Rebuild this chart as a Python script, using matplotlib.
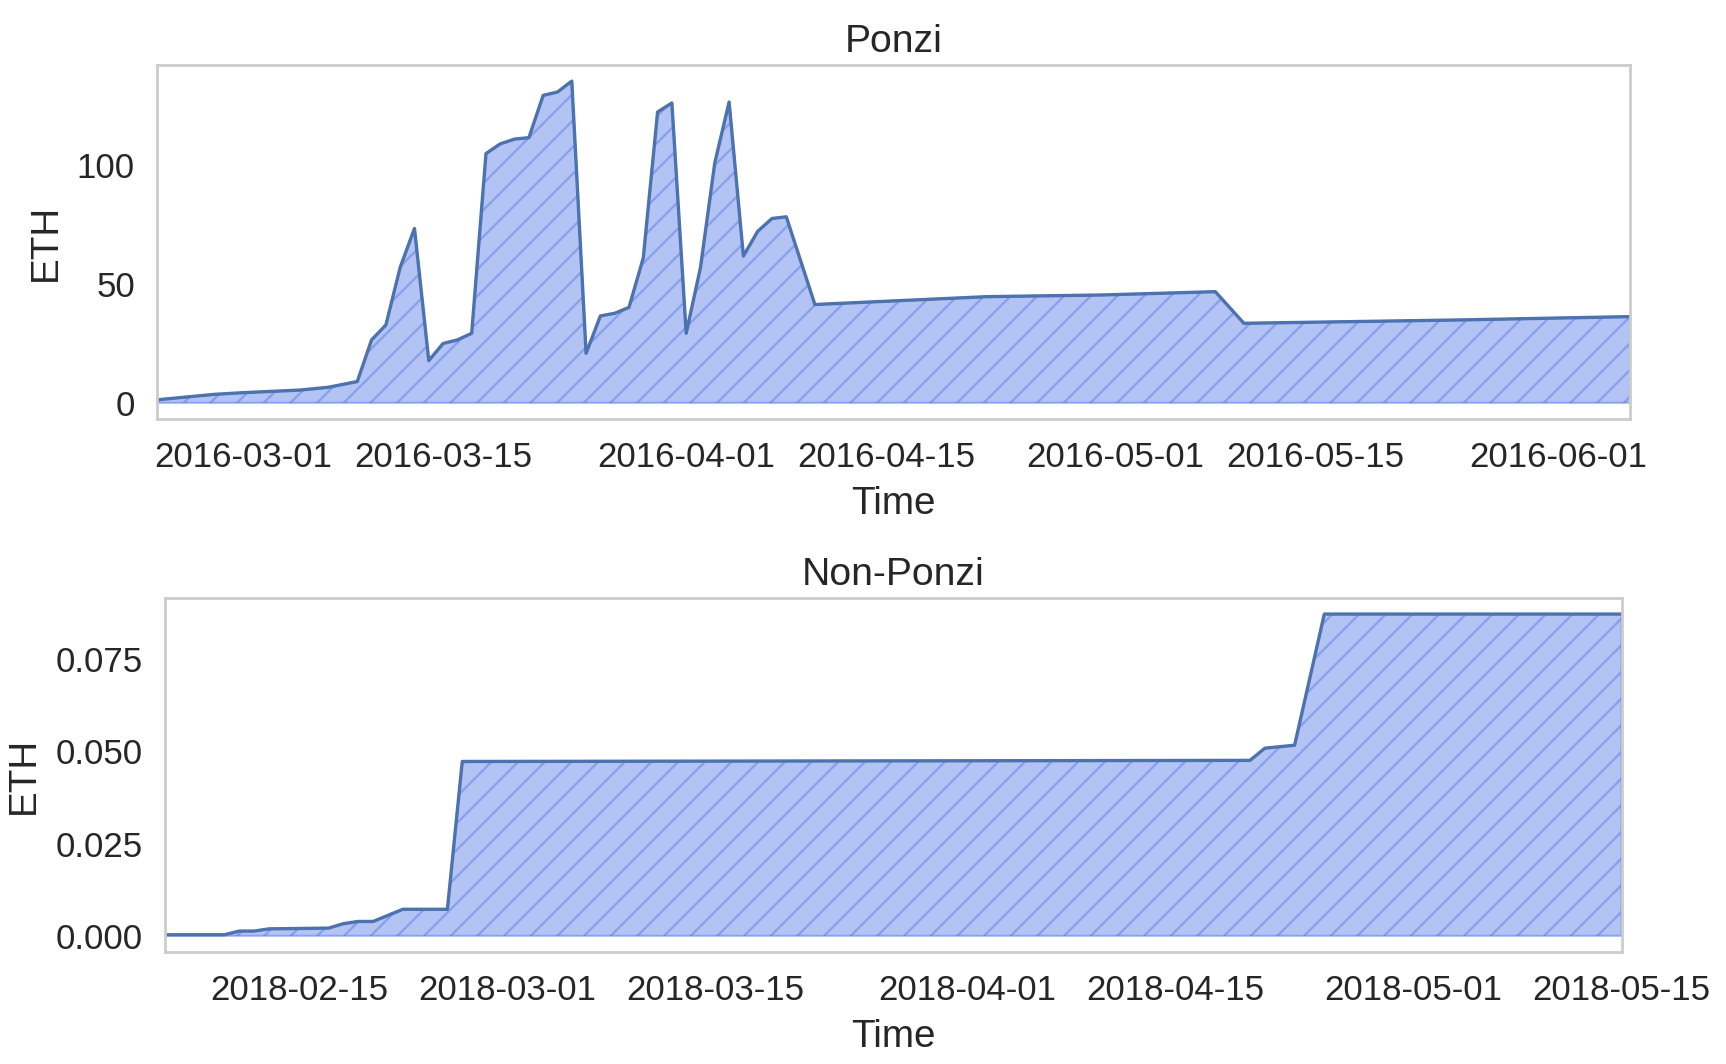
import matplotlib
matplotlib.use("Agg")
import matplotlib.pyplot as plt
import matplotlib.dates as mdates
from matplotlib.ticker import FormatStrFormatter
import pandas as pd


# Ponzi 合约余额（ETH），按日期
ponzi_dates = [
    "2016-02-24", "2016-02-28", "2016-03-01", "2016-03-05", "2016-03-07",
    "2016-03-08", "2016-03-09", "2016-03-10", "2016-03-11", "2016-03-12",
    "2016-03-13", "2016-03-14", "2016-03-15", "2016-03-16", "2016-03-17",
    "2016-03-18", "2016-03-19", "2016-03-20", "2016-03-21", "2016-03-22",
    "2016-03-23", "2016-03-24", "2016-03-25", "2016-03-26", "2016-03-27",
    "2016-03-28", "2016-03-29", "2016-03-30", "2016-03-31", "2016-04-01",
    "2016-04-02", "2016-04-03", "2016-04-04", "2016-04-05", "2016-04-06",
    "2016-04-07", "2016-04-08", "2016-04-10", "2016-04-22", "2016-04-30",
    "2016-05-08", "2016-05-10", "2016-05-25", "2016-06-06",
]
ponzi_eth = [
    1.3, 3.6, 4.3, 5.4, 6.6,
    7.8, 9.0, 26.5, 32.8, 57.0,
    73.4, 17.8, 25.0, 26.5, 29.3,
    104.9, 109.0, 111.0, 111.6, 129.4,
    130.8, 135.4, 20.9, 36.6, 37.7,
    40.2, 61.0, 122.4, 126.2, 29.3,
    57.0, 101.0, 126.6, 61.8, 72.2,
    77.6, 78.3, 41.4, 44.7, 45.4,
    46.8, 33.5, 34.9, 36.3,
]
ponzi_xticks = ["2016-03-01", "2016-03-15", "2016-04-01", "2016-04-15",
                "2016-05-01", "2016-05-15", "2016-06-01"]
ponzi_yticks = [0, 50, 100]

# Non-Ponzi 合约余额（ETH）
non_ponzi_dates = [
    "2018-02-06", "2018-02-10", "2018-02-11", "2018-02-12", "2018-02-13",
    "2018-02-17", "2018-02-18", "2018-02-19", "2018-02-20", "2018-02-22",
    "2018-02-25", "2018-02-26", "2018-04-20", "2018-04-21", "2018-04-23",
    "2018-04-25", "2018-05-15",
]
non_ponzi_eth = [
    0.0003, 0.0003, 0.0013, 0.0013, 0.0019,
    0.0021, 0.0033, 0.0039, 0.0039, 0.0072,
    0.0072, 0.0472, 0.0475, 0.0508, 0.0516,
    0.0871, 0.0871,
]
non_ponzi_xticks = ["2018-02-15", "2018-03-01", "2018-03-15", "2018-04-01",
                    "2018-04-15", "2018-05-01", "2018-05-15"]
non_ponzi_yticks = [0.0, 0.025, 0.05, 0.075]


plt.rcParams["font.family"] = ["Liberation Sans", "DejaVu Sans"]
plt.rcParams["hatch.linewidth"] = 1.0

TEXT = "#262626"


def draw_panel(ax, dates, values, xticks, yticks, title, yfmt):
    x = pd.to_datetime(dates)
    # 填充区域 + 斜线
    ax.fill_between(x, values, color="royalblue", alpha=0.4, hatch="//", linewidth=1)
    # 上边缘折线
    ax.plot(x, values, color="#4c72b0", linewidth=1.5)

    ax.set_xlim(x[0], x[-1])
    ax.margins(y=0.05)
    ax.set_xticks(pd.to_datetime(xticks))
    ax.xaxis.set_major_formatter(mdates.DateFormatter("%Y-%m-%d"))
    ax.set_yticks(yticks)
    ax.yaxis.set_major_formatter(FormatStrFormatter(yfmt))

    ax.tick_params(length=0, pad=10, labelsize=15.7, labelcolor=TEXT)
    ax.set_xlabel("Time", fontsize=17.4, color=TEXT, labelpad=5.5)
    ax.set_ylabel("ETH", fontsize=17.4, color=TEXT, labelpad=6)
    ax.set_title(title, fontsize=17.6, color=TEXT)
    ax.grid(False)
    for s in ax.spines.values():
        s.set_color("#cccccc")
        s.set_linewidth(1.25)


fig = plt.figure(figsize=(1726 / 160, 1064 / 160), dpi=160)
ax1 = fig.add_axes([0.0910, 0.6062, 0.8534, 0.3327])
ax2 = fig.add_axes([0.0956, 0.1053, 0.8439, 0.3327])

draw_panel(ax1, ponzi_dates, ponzi_eth, ponzi_xticks, ponzi_yticks, "Ponzi", "%d")
draw_panel(ax2, non_ponzi_dates, non_ponzi_eth, non_ponzi_xticks, non_ponzi_yticks,
           "Non-Ponzi", "%.3f")

fig.savefig("out.png", dpi=160, facecolor="white")
